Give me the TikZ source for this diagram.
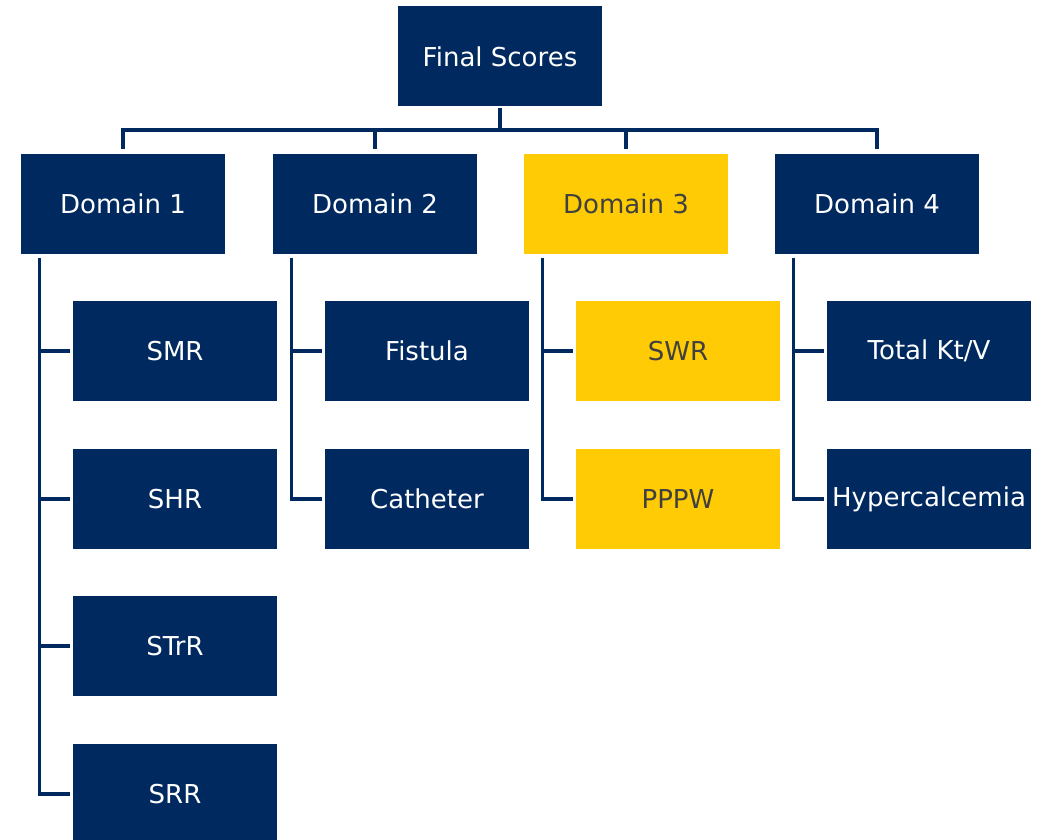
\documentclass[tikz,border=0pt]{standalone}
\usepackage{fontspec}
\setmainfont{DejaVu Sans}
\definecolor{navy}{RGB}{0,41,96}
\definecolor{gold}{RGB}{255,203,5}
\definecolor{darktext}{RGB}{64,64,64}
\begin{document}
\begin{tikzpicture}[x=1pt,y=-1pt,
  box/.style={minimum width=204pt,minimum height=100pt,inner sep=0pt,font=\fontsize{26}{30}\selectfont},
  navybox/.style={box,fill=navy,text=white},
  goldbox/.style={box,fill=gold,text=darktext},
  conn/.style={draw=navy,line width=3.2pt}]
\useasboundingbox (0,0) rectangle (1041,840);
\node[navybox] (top) at (500,56.5) {Final Scores};
\node[navybox] (d1) at (123,203.5) {Domain 1};
\node[navybox] (d2) at (375,203.5) {Domain 2};
\node[goldbox] (d3) at (626,203.5) {Domain 3};
\node[navybox] (d4) at (877,203.5) {Domain 4};
\node[navybox] (smr) at (175,351) {SMR};
\node[navybox] (shr) at (175,499) {SHR};
\node[navybox] (strr) at (175,646) {STrR};
\node[navybox] (srr) at (175,794) {SRR};
\node[navybox] (fis) at (427,351) {Fistula};
\node[navybox] (cat) at (427,499) {Catheter};
\node[goldbox] (swr) at (678,351) {SWR};
\node[goldbox] (pppw) at (678,499) {PPPW};
\node[navybox] (ktv) at (929,351) {Total Kt/V};
\node[navybox] (hyp) at (929,499) {Hypercalcemia};
% top bus
\coordinate (bus) at (500,130);
\draw[conn] ([yshift=-1pt]top.south) -- (top.south |- bus);
\draw[conn,shorten >=4pt] (d1.north |- bus) -- (d1.north);
\draw[conn,shorten >=4pt] (d2.north |- bus) -- (d2.north);
\draw[conn,shorten >=4pt] (d3.north |- bus) -- (d3.north);
\draw[conn,shorten >=4pt] (d4.north |- bus) -- (d4.north);
\draw[conn,line cap=rect] (d1.north |- bus) -- (d4.north |- bus);
% branches
\coordinate (b1) at ([xshift=19pt,yshift=-4pt]d1.south west);
\coordinate (b2) at ([xshift=19pt,yshift=-4pt]d2.south west);
\coordinate (b3) at ([xshift=19pt,yshift=-4pt]d3.south west);
\coordinate (b4) at ([xshift=19pt,yshift=-4pt]d4.south west);
\draw[conn,shorten >=3pt] (b1) |- (srr.west);
\draw[conn,shorten >=3pt] (b1 |- smr.west) -- (smr.west);
\draw[conn,shorten >=3pt] (b1 |- shr.west) -- (shr.west);
\draw[conn,shorten >=3pt] (b1 |- strr.west) -- (strr.west);
\draw[conn,shorten >=3pt] (b2) |- (cat.west);
\draw[conn,shorten >=3pt] (b2 |- fis.west) -- (fis.west);
\draw[conn,shorten >=3pt] (b3) |- (pppw.west);
\draw[conn,shorten >=3pt] (b3 |- swr.west) -- (swr.west);
\draw[conn,shorten >=3pt] (b4) |- (hyp.west);
\draw[conn,shorten >=3pt] (b4 |- ktv.west) -- (ktv.west);
\end{tikzpicture}
\end{document}
